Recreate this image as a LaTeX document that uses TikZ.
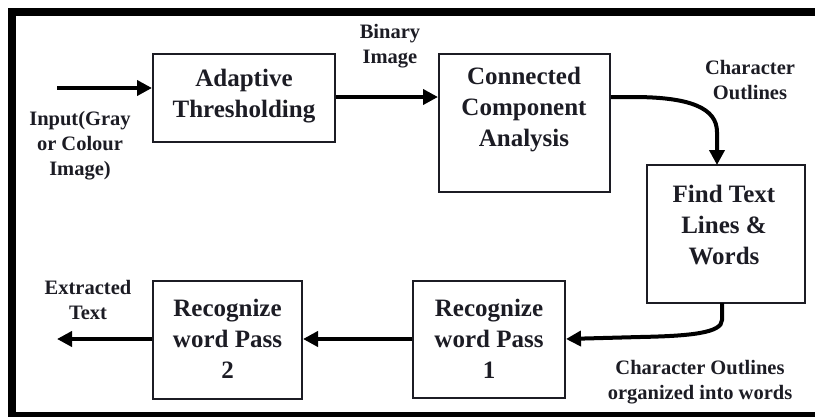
\documentclass[tikz,border=0pt]{standalone}
\usepackage{fontspec}
\setmainfont{Liberation Serif}
\usetikzlibrary{arrows.meta}

\definecolor{ink}{RGB}{28,28,36}

\tikzset{
  stage/.style={draw=ink, line width=2pt, inner sep=0pt},
  stagetext/.style={font=\fontsize{25}{31}\selectfont\bfseries, align=center, inner sep=0pt, text=ink},
  flowlabel/.style={font=\fontsize{20.5}{25}\selectfont\bfseries, align=center, inner sep=0pt, text=ink},
  flow/.style={draw=black, line width=4pt, -{Triangle[length=15pt,width=15pt]}},
}

\begin{document}
\begin{tikzpicture}[x=1pt, y=-1pt]
  \useasboundingbox (0,0) rectangle (815,416);

  % outer frame (open on the right)
  \draw[line width=8pt] (815,12) -- (11.5,12) -- (11.5,416) -- (815,416);

  % processing stages
  \node[stage, minimum width=182pt, minimum height=88pt]  (adapt) at (244,98)   {};
  \node[stage, minimum width=171pt, minimum height=138pt] (cca)   at (524.5,123) {};
  \node[stage, minimum width=158pt, minimum height=138pt] (find)  at (726,234)  {};
  \node[stage, minimum width=152pt, minimum height=117pt] (rec1)  at (489,339.5) {};
  \node[stage, minimum width=149pt, minimum height=118pt] (rec2)  at (227.5,340) {};

  \node[stagetext] (adaptT) at (244,96)  {Adaptive\\Thresholding};
  \node[stagetext] (ccaT)   at (524,110) {Connected\\Component\\Analysis};
  \node[stagetext] (findT)  at (724,225) {Find Text\\Lines \&\\Words};
  \node[stagetext] (rec1T)  at (489,339) {Recognize\\word Pass\\1};
  \node[stagetext] (rec2T)  at (227.5,339) {Recognize\\word Pass\\2};

  % data labels
  \node[flowlabel] (inL)    at (80,146)  {Input(Gray\\or Colour\\Image)};
  \node[flowlabel] (binL)   at (390,46)  {Binary\\Image};
  \node[flowlabel] (charL)  at (750,80)  {Character\\Outlines};
  \node[flowlabel] (wordsL) at (700,382) {Character Outlines\\organized into words};
  \node[flowlabel] (outL)   at (88,300)  {Extracted\\Text};

  % connectors
  \coordinate (src) at (57,88);
  \coordinate (dst) at (57,339);
  \draw[flow] (src) -- (src -| adapt.west);
  \draw[flow] (adapt.east |- 0,97) -- (cca.west |- 0,97);
  \draw[flow] (cca.east |- 0,97) -- (633,97)
     .. controls (690,97) and (717,108) .. (717,132) -- (717,165);
  \draw[flow] (722,303) -- (722,320)
     .. controls (722,333) and (690,336) .. (640,337) -- (rec1.east |- 0,339);
  \draw[flow] (rec1.west |- 0,339) -- (rec2.east |- 0,339);
  \draw[flow] (rec2.west |- 0,339) -- (dst);
\end{tikzpicture}
\end{document}
